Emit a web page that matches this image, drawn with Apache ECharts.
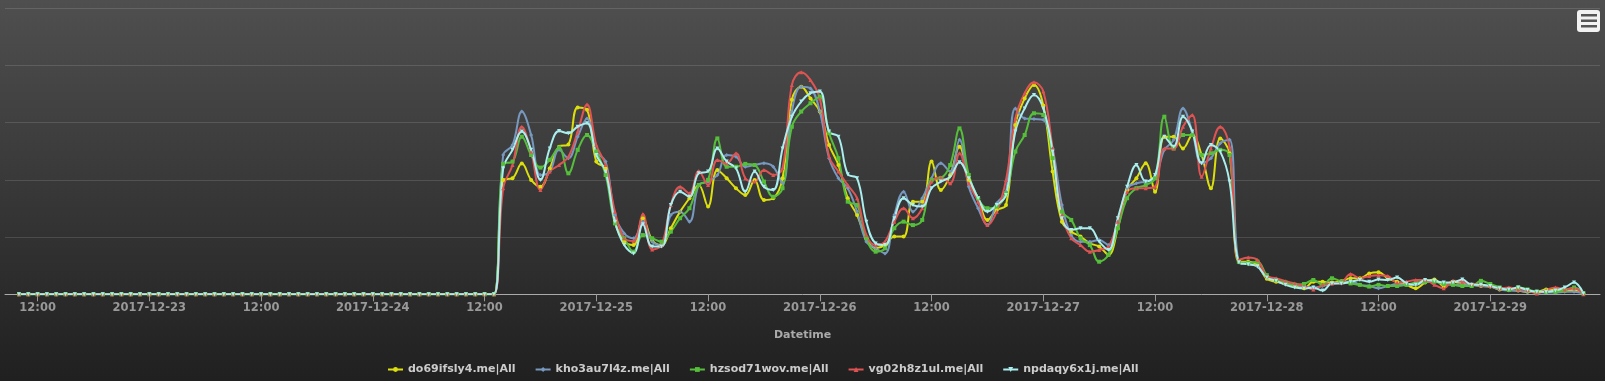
<!DOCTYPE html>
<html>
<head>
<meta charset="utf-8">
<script src="https://cdn.jsdelivr.net/npm/echarts@6/dist/echarts.min.js"></script>
<style>
html,body{margin:0;padding:0;background:#222;}
#chart{width:1605px;height:381px;}
</style>
</head>
<body>
<div id="chart"></div>
<script>
// Hourly samples, first one at this time (UTC)
const startTime = Date.UTC(2017, 11, 22, 10, 0);
const stepMs = 3600 * 1000;

const seriesNames = ['do69ifsly4.me|All', 'kho3au7l4z.me|All', 'hzsod71wov.me|All', 'vg02h8z1ul.me|All', 'npdaqy6x1j.me|All'];

const do69 = [
0,0,0,0,0,0,0,0,0,0,0,0,0,0,0,0,0,0,0,0,0,0,0,0,0,0,0,0,0,0,0,0,0,0,0,0,0,0,0,0,0,0,0,0,0,0,0,0,0,0,0,0,
40.0,40.6,45.7,40.0,37.6,44.0,51.6,52.4,65.3,64.5,46.4,44.0,25.4,18.4,17.2,26.6,19.0,17.2,
23.1,28.9,33.6,38.2,30.7,43.5,40.6,37.1,34.7,40.0,33.0,33.6,40.6,68.0,72.6,68.5,63.9,52.2,45.2,33.6,
27.7,19.6,16.1,17.2,20.2,20.2,32.4,32.4,46.4,36.5,41.7,51.6,40.0,33.6,26.0,29.5,31.2,59.2,68.5,73.2,
66.0,42.9,25.4,21.9,20.2,17.8,16.7,13.8,23.1,36.5,40.6,45.8,35.9,55.1,55.1,51.0,55.7,48.7,37.1,54.5,49.3,
11.4,11.4,10.2,5.4,4.4,3.8,2.9,2.1,4.4,4.4,4.1,4.6,5.6,5.6,7.3,7.7,5.6,4.4,3.3,2.1,4.1,5.2,2.9,4.4,3.8,
3.3,2.9,2.7,1.7,1.5,1.3,0.9,0.9,1.7,1.7,1.3,1.5,0.3
];
const kho3 = [
0,0,0,0,0,0,0,0,0,0,0,0,0,0,0,0,0,0,0,0,0,0,0,0,0,0,0,0,0,0,0,0,0,0,0,0,0,0,0,0,0,0,0,0,0,0,0,0,0,0,0,0,
48.7,52.2,63.9,55.7,41.7,42.9,50.5,47.6,55.1,61.5,49.9,46.4,27.7,21.3,19.6,25.4,18.4,17.2,
27.7,28.9,25.4,38.2,39.4,41.7,48.7,48.1,44.6,45.2,45.8,44.6,38.8,63.9,72.6,72.0,63.9,47.6,40.6,37.1,
28.9,18.4,16.1,14.3,27.7,35.9,28.9,33.6,40.6,45.8,42.9,54.0,37.6,30.1,24.2,31.8,35.9,65.0,61.5,61.3,
61.0,51.0,31.2,20.7,18.4,18.4,19.0,17.2,25.4,37.1,38.8,39.4,40.6,50.5,54.0,65.0,56.9,45.8,47.6,52.8,54.0,
11.2,10.6,9.7,5.9,4.7,3.6,3.3,2.7,2.4,2.9,3.8,4.1,4.6,3.3,2.9,2.1,2.9,3.6,3.3,3.3,4.4,4.4,3.8,3.3,3.8,
3.3,2.9,2.7,1.7,1.3,1.3,0.9,0.9,0.6,0.6,0.9,0.9,0.3
];
const hzsod = [
0,0,0,0,0,0,0,0,0,0,0,0,0,0,0,0,0,0,0,0,0,0,0,0,0,0,0,0,0,0,0,0,0,0,0,0,0,0,0,0,0,0,0,0,0,0,0,0,0,0,0,0,
45.6,46.4,55.1,48.7,44.3,47.0,51.3,42.3,50.5,55.7,49.9,41.7,24.8,19.6,14.9,20.7,19.6,18.4,
21.9,26.6,30.1,38.2,40.0,54.5,44.6,44.6,45.6,45.2,39.4,34.1,37.1,58.6,63.9,66.8,69.1,56.3,47.6,32.4,
31.2,19.6,14.9,16.1,23.1,25.4,24.2,26.0,40.0,40.6,45.2,58.0,41.7,33.6,30.1,30.7,35.3,49.9,55.7,63.3,
62.7,47.6,28.9,26.0,19.6,17.2,11.4,13.8,23.1,33.6,37.1,38.2,40.6,62.1,51.0,55.7,55.7,48.7,49.3,50.5,48.7,
11.4,11.0,11.4,6.7,5.0,4.1,3.3,3.6,5.0,3.3,5.6,4.4,3.8,3.3,2.7,3.3,2.9,2.9,3.3,4.1,4.4,4.4,3.6,3.3,2.9,
2.9,4.7,3.6,2.4,1.5,2.4,1.7,0.9,0.9,0.9,1.3,2.4,0.3
];
const vg02 = [
0,0,0,0,0,0,0,0,0,0,0,0,0,0,0,0,0,0,0,0,0,0,0,0,0,0,0,0,0,0,0,0,0,0,0,0,0,0,0,0,0,0,0,0,0,0,0,0,0,0,0,0,
37.1,45.2,58.6,49.9,36.5,42.9,45.2,48.1,56.9,66.4,52.2,45.2,28.9,19.6,18.6,28.1,15.7,17.2,
31.2,37.6,35.3,43.1,38.2,47.0,45.8,49.3,40.6,39.4,43.5,41.7,44.1,73.2,77.6,74.9,68.5,48.1,42.9,38.2,
33.6,20.7,17.2,18.4,25.4,30.1,26.6,30.1,39.4,40.8,38.8,49.3,38.8,32.4,24.2,28.9,40.0,61.5,70.3,74.1,
70.9,51.0,27.7,19.6,17.2,14.9,15.5,16.7,25.4,35.9,37.1,37.1,37.6,51.0,51.0,58.6,62.7,41.1,51.0,58.6,51.6,
12.0,12.9,12.0,6.4,5.6,4.6,3.8,2.9,1.7,3.3,3.8,4.1,7.1,5.6,6.4,6.7,6.4,4.1,4.4,5.0,5.0,3.3,2.1,4.7,4.4,
3.6,3.3,2.9,2.1,2.4,1.7,1.5,0.3,1.5,2.4,1.7,2.1,0.0
];
const npdaqy = [
0,0,0,0,0,0,0,0,0,0,0,0,0,0,0,0,0,0,0,0,0,0,0,0,0,0,0,0,0,0,0,0,0,0,0,0,0,0,0,0,0,0,0,0,0,0,0,0,0,0,0,0,
44.0,50.5,56.9,50.5,40.0,51.0,57.1,56.3,58.6,59.8,48.7,42.9,25.4,17.2,14.3,24.5,16.7,16.7,
31.2,35.9,34.1,42.3,42.9,51.0,46.4,44.1,35.9,42.9,37.6,36.5,51.0,62.1,67.4,70.3,70.9,56.9,55.1,42.0,
40.6,25.4,17.8,17.2,26.6,33.6,31.2,30.7,37.1,39.4,41.1,46.2,40.6,33.6,28.9,31.2,34.7,56.9,65.0,69.7,
65.0,49.9,26.6,22.5,23.1,23.1,18.4,15.5,26.6,37.6,45.2,39.4,41.7,55.1,51.6,62.1,56.9,45.8,52.2,49.9,39.4,
11.2,10.5,9.7,5.9,4.7,3.3,2.4,2.0,2.4,1.3,3.8,3.8,4.4,5.0,4.4,5.2,5.0,5.9,3.8,3.3,5.0,4.7,4.1,4.1,5.2,
3.3,3.3,2.9,2.1,1.7,2.4,1.5,0.9,0.9,1.3,2.4,4.1,0.3
];

const tickTimes = [
 [2017,12,22,12],[2017,12,23,0],[2017,12,23,12],[2017,12,24,0],[2017,12,24,12],[2017,12,25,0],
 [2017,12,25,12],[2017,12,26,0],[2017,12,26,12],[2017,12,27,0],[2017,12,27,12],[2017,12,28,0],
 [2017,12,28,12],[2017,12,29,0]
];
const tickLabels = ['12:00','2017-12-23','12:00','2017-12-24','12:00','2017-12-25','12:00','2017-12-26','12:00','2017-12-27','12:00','2017-12-28','12:00','2017-12-29'];

const axisMin = Date.UTC(2017, 11, 22, 8, 30);
const axisMax = Date.UTC(2017, 11, 29, 11, 47);

const colors = ['#DDDF0D', '#7798BF', '#55BF3B', '#DF5353', '#aaeeee'];
const symbols = ['circle', 'diamond', 'rect', 'triangle', 'path://M0,0 L10,0 L5,10 Z'];
const values = [do69, kho3, hzsod, vg02, npdaqy];

const tickMs = tickTimes.map(a => Date.UTC(a[0], a[1] - 1, a[2], a[3]));
const labelMap = {};
tickMs.forEach((t, i) => { labelMap[t] = tickLabels[i]; });

const chart = echarts.init(document.getElementById('chart'), null, {renderer: 'canvas'});
const font = '"DejaVu Sans", Verdana, sans-serif';

chart.setOption({
  animation: false,
  backgroundColor: {
    type: 'linear', x: 0, y: 0, x2: 0, y2: 1,
    colorStops: [{offset: 0, color: '#4f4f4f'}, {offset: 1, color: '#202020'}]
  },
  color: colors,
  grid: {left: 5, right: 5, top: 8.3, bottom: 86.7, containLabel: false},
  legend: {
    left: 387, top: 364, padding: 0,
    itemWidth: 15, itemHeight: 6, itemGap: 19,
    textStyle: {color: '#CCCCCC', fontWeight: 'bold', fontSize: 11, fontFamily: font},
    data: seriesNames
  },
  xAxis: {
    type: 'value', min: axisMin, max: axisMax,
    name: 'Datetime', nameLocation: 'middle', nameGap: 35,
    nameTextStyle: {color: '#AAAAAA', fontWeight: 'bold', fontSize: 11, fontFamily: font},
    axisLine: {show: true, lineStyle: {color: '#aaaaaa', width: 1}},
    axisTick: {show: true, length: 7, lineStyle: {color: '#999999'}, customValues: tickMs},
    axisLabel: {
      color: '#999999', fontWeight: 'bold', fontSize: 11.5, fontFamily: font, margin: 8,
      customValues: tickMs,
      formatter: v => labelMap[v] || ''
    },
    splitLine: {show: false}
  },
  yAxis: {
    type: 'value', min: 0, max: 100, interval: 20,
    axisLabel: {show: false}, axisLine: {show: false}, axisTick: {show: false},
    splitLine: {lineStyle: {color: 'rgba(255,255,255,0.13)', width: 1}}
  },
  series: values.map((vals, i) => ({
    name: seriesNames[i],
    type: 'line',
    smooth: 0.4,
    showSymbol: true,
    symbol: symbols[i],
    symbolSize: 4,
    lineStyle: {width: 2, color: colors[i]},
    itemStyle: {color: colors[i]},
    data: vals.map((v, k) => [startTime + k * stepMs, v])
  })),
  graphic: [
    {type: 'rect', shape: {x: 1577, y: 10, width: 23, height: 22, r: 3}, style: {fill: '#f2f2f2'}, z: 100},
    {type: 'rect', shape: {x: 1581, y: 14, width: 16, height: 2.5}, style: {fill: '#555555'}, z: 101},
    {type: 'rect', shape: {x: 1581, y: 19.5, width: 16, height: 2.5}, style: {fill: '#555555'}, z: 101},
    {type: 'rect', shape: {x: 1581, y: 25, width: 16, height: 2.5}, style: {fill: '#555555'}, z: 101}
  ]
});
</script>
</body>
</html>
